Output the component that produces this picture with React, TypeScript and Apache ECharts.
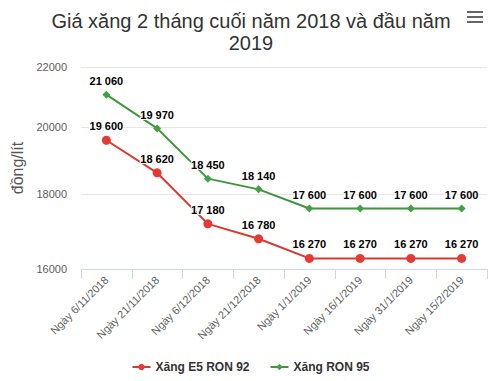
import React, { useEffect, useRef } from "react";
import * as echarts from "echarts";

const categories = [
  "Ngày 6/11/2018",
  "Ngày 21/11/2018",
  "Ngày 6/12/2018",
  "Ngày 21/12/2018",
  "Ngày 1/1/2019",
  "Ngày 16/1/2019",
  "Ngày 31/1/2019",
  "Ngày 15/2/2019",
];
const e5Ron92 = [19600, 18620, 17180, 16780, 16270, 16270, 16270, 16270];
const ron95 = [21060, 19970, 18450, 18140, 17600, 17600, 17600, 17600];
const yTicks = [16000, 18000, 20000, 22000];

const FONT = "'Liberation Sans', Arial, sans-serif";
const fmt = (v: number) => String(v).replace(/\B(?=(\d{3})+(?!\d))/g, " ");

export default function App() {
  const ref = useRef<HTMLDivElement>(null);
  useEffect(() => {
    if (!ref.current) return;
    const chart = echarts.init(ref.current, null, { renderer: "svg" });
    const label = {
      show: true,
      position: "top" as const,
      distance: 4,
      formatter: (p: any) => fmt(p.value),
      fontFamily: FONT,
      fontSize: 11,
      fontWeight: "bold" as const,
      color: "#000",
      textBorderColor: "#fff",
      textBorderWidth: 2,
    };
    chart.setOption({
      animation: false,
      backgroundColor: "#fff",
      title: {
        text: "Giá xăng 2 tháng cuối năm 2018 và đầu năm\n2019",
        left: 246,
        top: 5,
        textAlign: "center",
        textStyle: {
          fontFamily: FONT,
          fontSize: 20,
          fontWeight: "normal",
          color: "#333",
          lineHeight: 22,
        },
      },
      graphic: [
        { type: "rect", shape: { x: 467, y: 11, width: 16, height: 2 }, style: { fill: "#666" } },
        { type: "rect", shape: { x: 467, y: 16, width: 16, height: 2 }, style: { fill: "#666" } },
        { type: "rect", shape: { x: 467, y: 21, width: 16, height: 2 }, style: { fill: "#666" } },
      ],
      legend: {
        bottom: 3,
        left: "center",
        itemGap: 20,
        itemWidth: 18,
        itemHeight: 8,
        textStyle: { fontFamily: FONT, fontSize: 12, fontWeight: "bold", color: "#333" },
        data: ["Xăng E5 RON 92", "Xăng RON 95"],
      },
      grid: { left: 81, right: 14, top: 67, bottom: 112 },
      xAxis: {
        type: "category",
        data: categories,
        boundaryGap: true,
        axisLine: { lineStyle: { color: "#ccd6eb" } },
        axisTick: { show: true, length: 10, lineStyle: { color: "#ccd6eb" } },
        axisLabel: {
          rotate: 45,
          interval: 0,
          margin: 9,
          fontFamily: FONT,
          fontSize: 11,
          color: "#606060",
        },
      },
      yAxis: {
        type: "log",
        logBase: 10,
        min: 16000,
        max: 22000,
        name: "đồng/lít",
        nameLocation: "middle",
        nameGap: 52,
        nameTextStyle: { fontFamily: FONT, fontSize: 16, color: "#555" },
        axisLine: { show: false },
        axisTick: { show: false, customValues: yTicks },
        axisLabel: {
          customValues: yTicks,
          margin: 14,
          fontFamily: FONT,
          fontSize: 11,
          color: "#606060",
          formatter: (v: number) => String(Math.round(v)),
        },
        splitLine: { show: true, lineStyle: { color: "#e6e6e6" } },
      },
      series: [
        {
          name: "Xăng E5 RON 92",
          type: "line",
          data: e5Ron92,
          color: "#e53935",
          symbol: "circle",
          symbolSize: 9,
          lineStyle: { width: 2, color: "#d9392f" },
          itemStyle: { color: "#e53935" },
          label,
        },
        {
          name: "Xăng RON 95",
          type: "line",
          data: ron95,
          color: "#45a045",
          symbol: "diamond",
          symbolSize: 8,
          lineStyle: { width: 2, color: "#3f943f" },
          itemStyle: { color: "#45a045" },
          label,
        },
      ],
    });
    return () => chart.dispose();
  }, []);
  return <div ref={ref} style={{ width: 501, height: 381, position: "absolute", left: 0, top: 0 }} />;
}
